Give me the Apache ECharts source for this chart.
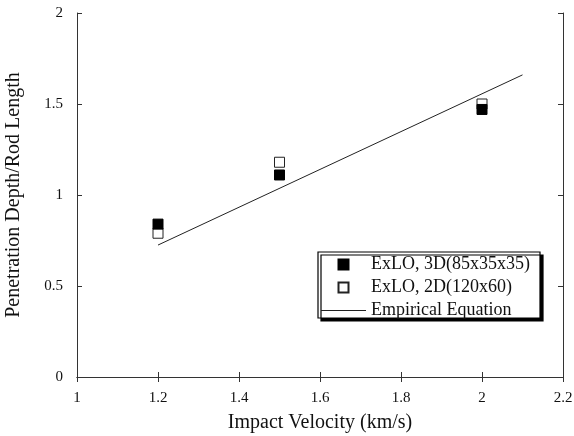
<!DOCTYPE html>
<html>
<head>
<meta charset="utf-8">
<script src="https://cdn.jsdelivr.net/npm/echarts@6/dist/echarts.min.js"></script>
<style>
  html, body { margin: 0; padding: 0; background: #fff; }
  #chart { width: 574px; height: 436px; }
</style>
</head>
<body>
<div id="chart"></div>
<script>
// Penetration depth normalised by rod length versus impact velocity
var velocity3D = [1.2, 1.5, 2.0];
var depth3D = [0.84, 1.11, 1.47];
var velocity2D = [1.2, 1.5, 2.0];
var depth2D = [0.79, 1.18, 1.50];
var empiricalVelocity = [1.2, 2.1];
var empiricalDepth = [0.725, 1.66];

var seriesNames = ['ExLO, 3D(85x35x35)', 'ExLO, 2D(120x60)', 'Empirical Equation'];
var xTicks = { min: 1, max: 2.2, step: 0.2 };
var yTicks = { min: 0, max: 2, step: 0.5 };

function pairs(xs, ys) {
  return xs.map(function (x, i) { return [x, ys[i]]; });
}

var FONT = '"Liberation Serif", "DejaVu Serif", serif';
var squarePath = 'path://M0 0H10V10H0Z';
var dashPath = 'path://M0 0H45V1H0Z';

var chart = echarts.init(document.getElementById('chart'), null, { renderer: 'canvas' });

var axisLine = { show: true, lineStyle: { color: '#333', width: 1 } };
var tick = { show: true, inside: true, length: 5, lineStyle: { color: '#333' } };

chart.setOption({
  animation: false,
  backgroundColor: '#fff',
  grid: { left: 77, right: 11, top: 13, bottom: 59, containLabel: false, outerBoundsMode: 'none' },
  xAxis: [{
    type: 'value', min: xTicks.min, max: xTicks.max, interval: xTicks.step,
    position: 'bottom',
    name: 'Impact Velocity (km/s)', nameLocation: 'middle', nameGap: 36,
    nameTextStyle: { fontFamily: FONT, fontSize: 20, color: '#111' },
    axisLine: axisLine, axisTick: tick, splitLine: { show: false },
    axisLabel: { fontFamily: FONT, fontSize: 15, color: '#111', margin: 14 }
  }, {
    type: 'value', min: xTicks.min, max: xTicks.max, interval: xTicks.step,
    position: 'top',
    axisLine: axisLine, axisTick: tick, splitLine: { show: false },
    axisLabel: { show: false }
  }],
  yAxis: [{
    type: 'value', min: yTicks.min, max: yTicks.max, interval: yTicks.step,
    position: 'left',
    name: 'Penetration Depth/Rod Length', nameLocation: 'middle', nameGap: 53,
    nameTextStyle: { fontFamily: FONT, fontSize: 20, color: '#111' },
    axisLine: axisLine, axisTick: tick, splitLine: { show: false },
    axisLabel: { fontFamily: FONT, fontSize: 15, color: '#111', margin: 14 }
  }, {
    type: 'value', min: yTicks.min, max: yTicks.max, interval: yTicks.step,
    position: 'right',
    axisLine: axisLine, axisTick: tick, splitLine: { show: false },
    axisLabel: { show: false }
  }],
  graphic: [{
    type: 'rect',
    shape: { x: 318, y: 252, width: 222, height: 66 },
    style: {
      fill: '#fff', stroke: '#000', lineWidth: 1.2,
      shadowColor: '#000', shadowBlur: 0, shadowOffsetX: 3, shadowOffsetY: 3
    },
    z: 10
  }],
  legend: {
    orient: 'vertical',
    left: 321, top: 254,
    padding: 0,
    itemGap: 2,
    itemWidth: 45, itemHeight: 10,
    textStyle: { fontFamily: FONT, fontSize: 18, color: '#111', lineHeight: 21 },
    data: [
      { name: seriesNames[0], icon: squarePath },
      { name: seriesNames[1], icon: squarePath },
      { name: seriesNames[2], icon: dashPath }
    ],
    z: 20
  },
  series: [{
    name: seriesNames[2],
    type: 'line',
    data: pairs(empiricalVelocity, empiricalDepth),
    symbol: 'none', symbolKeepAspect: true,
    lineStyle: { color: '#222', width: 1 },
    itemStyle: { color: '#222' },
    z: 2
  }, {
    name: seriesNames[0],
    type: 'scatter',
    data: pairs(velocity3D, depth3D),
    symbol: 'rect', symbolSize: 10, symbolKeepAspect: true,
    itemStyle: { color: '#000', borderColor: '#000', borderWidth: 1, opacity: 1 },
    z: 4
  }, {
    name: seriesNames[1],
    type: 'scatter',
    data: pairs(velocity2D, depth2D),
    symbol: 'rect', symbolSize: 10, symbolKeepAspect: true,
    itemStyle: { color: '#fff', borderColor: '#222', borderWidth: 1, opacity: 1 },
    z: 3
  }]
});
</script>
</body>
</html>
